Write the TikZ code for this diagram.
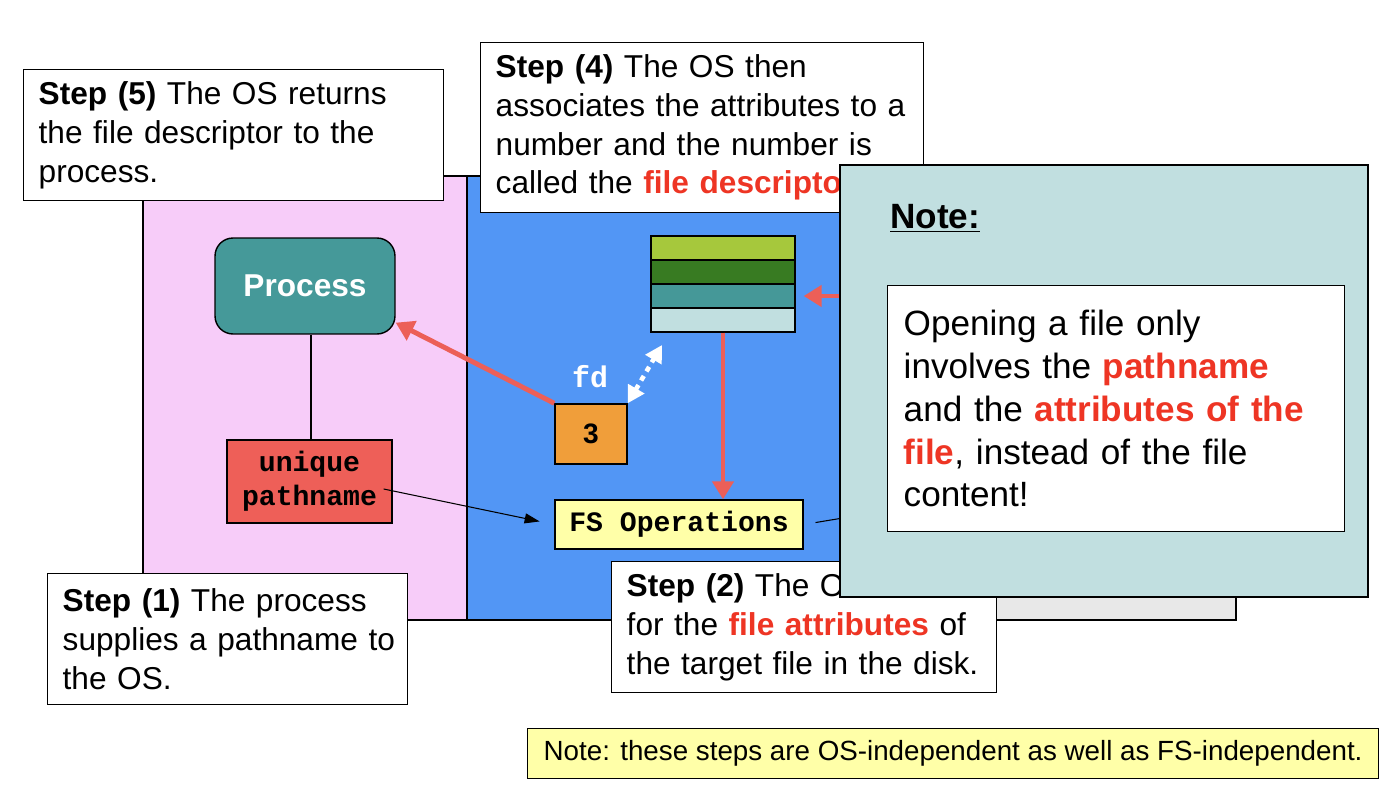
\documentclass[tikz,border=0pt]{standalone}
\usepackage{fontspec}
\setmainfont{Liberation Sans}
\setmonofont{Liberation Mono}
\usetikzlibrary{arrows.meta}
\definecolor{pinkbg}{HTML}{F7CCF9}
\definecolor{bluebg}{HTML}{5296F5}
\definecolor{graybg}{HTML}{E8E8E8}
\definecolor{notebg}{HTML}{C1DFE0}
\definecolor{procteal}{HTML}{459999}
\definecolor{pathred}{HTML}{EE5F58}
\definecolor{fdorange}{HTML}{F09E3A}
\definecolor{fsyellow}{HTML}{FFFFA8}
\definecolor{linered}{HTML}{EC5F58}
\definecolor{textred}{HTML}{EE3524}
\definecolor{rowlime}{HTML}{A6C83C}
\definecolor{rowgreen}{HTML}{387B22}
\definecolor{rowteal}{HTML}{459898}
\newcommand{\redbf}[1]{\textbf{\textcolor{textred}{#1}}}

\begin{document}
\begin{tikzpicture}[x=0.02cm, y=-0.02cm,
    stepbox/.style={draw, fill=white, line width=0.8pt, anchor=north west,
      align=left, inner xsep=0.3cm, font=\fontsize{18}{22}\selectfont},
    codebox/.style={draw, line width=0.8pt, align=center,
      font=\fontsize{16}{19.5}\selectfont\ttfamily\bfseries},
    stackrow/.style={draw, line width=0.8pt, minimum width=2.88cm, minimum height=0.48cm},
    redarrow/.style={draw=linered, line width=2.8pt,
      -{Triangle[length=0.36cm, width=0.42cm]}},
    thinarrow/.style={line width=0.6pt, -{Triangle[length=0.3cm, width=0.2cm]}}]
  \useasboundingbox (0,0) rectangle (1398,798);

  % Regions
  \filldraw[fill=pinkbg, line width=0.8pt] (143,176) rectangle (467,620);
  \filldraw[fill=bluebg, line width=0.8pt] (467,176) rectangle (996,620);
  \filldraw[fill=graybg, line width=0.8pt] (996,420) rectangle (1236,620);

  % Process side
  \node[draw, fill=procteal, rounded corners=0.36cm, line width=0.8pt,
    minimum width=3.6cm, minimum height=1.92cm, text=white,
    font=\fontsize{18}{21.6}\selectfont\bfseries] (proc) at (305,286) {Process};
  \node[codebox, fill=pathred, minimum width=3.3cm, minimum height=1.66cm]
    (path) at (309.5,481.5) {unique\\pathname};
  \draw[line width=0.6pt] (proc.south -| 311,0) -- (path.north -| 311,0);

  % OS side
  \node[codebox, fill=fdorange, font=\fontsize{16}{19.5}\selectfont\bfseries,
    minimum width=1.44cm, minimum height=1.2cm] (fd) at (591,434) {3};
  \node[text=white, font=\fontsize{17}{20}\selectfont\ttfamily\bfseries]
    (fdlabel) at (590,377) {fd};
  \foreach \c [count=\i] in {rowlime,rowgreen,rowteal,notebg}
    \node[stackrow, fill=\c] (s\i) at (723,{224+24*\i}) {};
  \node[codebox, fill=fsyellow, minimum width=4.96cm, minimum height=0.98cm]
    (fsop) at (679,524.5) {FS Operations};
  \coordinate (fdtip) at (662,345);
  \coordinate (attr) at (880,296);
  \coordinate (disk) at (1000,492);

  \draw[redarrow] (fd.north west) -- (proc.-22);
  \draw[redarrow] (s4.south) -- (s4.south |- fsop.north);
  \draw[redarrow, shorten >=0.16cm] (attr) -- (s3.east);
  \draw[white, line width=2.6pt, dash pattern=on 3pt off 3pt,
    {Triangle[length=0.34cm, width=0.36cm]}-{Triangle[length=0.34cm, width=0.36cm]}]
    (fd.north east) -- (fdtip);
  \draw[thinarrow, shorten >=0.3cm] ([xshift=-0.18cm, yshift=-0.15cm]path.east) -- (fsop.west);
  \draw[line width=0.6pt, shorten <=0.24cm] (fsop.east) -- (disk);

  % Steps
  \node[stepbox, minimum width=8.4cm, minimum height=2.62cm, text width=7.8cm]
    (step5) at (23,69) {\textbf{Step (5)} The OS returns\\the file descriptor to the\\process.};
  \node[stepbox, minimum width=8.86cm, minimum height=3.4cm, text width=8.26cm, inner xsep=0.28cm]
    (step4) at (480,42) {\textbf{Step (4)} The OS then\\associates the attributes to a\\number and the number is\\called the \redbf{file descriptor}};
  \node[stepbox, minimum width=7.2cm, minimum height=2.62cm, text width=6.6cm]
    (step1) at (47,573) {\textbf{Step (1)} The process\\\mbox{supplies a pathname to}\\the OS.};
  \node[stepbox, minimum width=7.7cm, minimum height=2.62cm, text width=7.1cm]
    (step2) at (611,561) {\textbf{Step (2)} The OS looks\\for the \redbf{file attributes} of\\the target file in the disk.};

  % Note
  \filldraw[fill=notebg, line width=0.8pt] (840,165) rectangle (1368,597);
  \node[anchor=west, inner sep=0pt, font=\fontsize{20}{24}\selectfont\bfseries]
    (notetitle) at (890,218) {\underline{Note:}};
  \node[stepbox, minimum width=9.14cm, minimum height=4.92cm, text width=8.5cm,
    inner xsep=0.32cm, font=\fontsize{20}{24.4}\selectfont]
    (notetext) at (887,285) {Opening a file only\\involves the \redbf{pathname}\\and the \redbf{attributes of the}\\\redbf{file}, instead of the file\\content!};

  \node[draw, fill=fsyellow, line width=0.8pt, anchor=north west,
    minimum width=17.02cm, minimum height=1cm, font=\fontsize{15.8}{19}\selectfont]
    (indep) at (527,728) {Note: these steps are OS-independent as well as FS-independent.};
\end{tikzpicture}
\end{document}
